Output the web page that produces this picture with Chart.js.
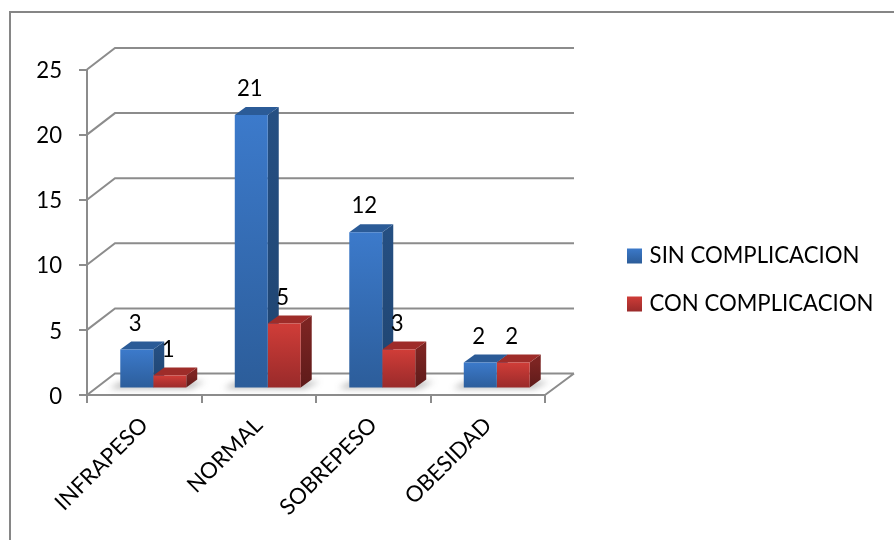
<!DOCTYPE html>
<html>
<head>
<meta charset="utf-8">
<style>html,body{margin:0;padding:0;background:#fff}canvas{display:block}</style>
<script src="https://cdn.jsdelivr.net/npm/chart.js@4"></script>
</head>
<body>
<canvas id="c" width="894" height="540"></canvas>
<script>
const categories = ['INFRAPESO', 'NORMAL', 'SOBREPESO', 'OBESIDAD'];
const sinComplicacion = [3, 21, 12, 2];
const conComplicacion = [1, 5, 3, 2];
const seriesNames = ['SIN COMPLICACION', 'CON COMPLICACION'];

const AXIS = '#8c8c8c';
const FONT = 'Lato';
const FONT_SIZE = 22.2;
// Depth of the floor and of each column in the oblique projection
const WALL = {dx: 28, dy: -21.5};
const BAR_SHIFT = {dx: 9, dy: -6.5};
const BAR_DEPTH = {dx: 11, dy: -8};

const PALETTE = [
  {front: ['#3c7acb', '#2c5d9a'], side: ['#254f82', '#1f4470'], top: '#2b5b97'},
  {front: ['#d03d38', '#982a2a'], side: ['#7c2422', '#5e1b1a'], top: '#9e2c29'}
];

function vGrad(ctx, y0, y1, colors) {
  const g = ctx.createLinearGradient(0, y0, 0, y1);
  g.addColorStop(0, colors[0]);
  g.addColorStop(1, colors[1]);
  return g;
}

function frontFill(seriesIndex) {
  return (c) => {
    const colors = PALETTE[seriesIndex].front;
    const y = c.chart.scales.y;
    if (!y) return colors[0];
    const y0 = y.getPixelForValue(c.raw), y1 = y.getPixelForValue(0);
    if (!Number.isFinite(y0) || !Number.isFinite(y1)) return colors[0];
    return vGrad(c.chart.ctx, y0, y1, colors);
  };
}

function poly(ctx, pts, fill) {
  ctx.beginPath();
  pts.forEach((p, i) => i ? ctx.lineTo(p[0], p[1]) : ctx.moveTo(p[0], p[1]));
  ctx.closePath();
  ctx.fillStyle = fill;
  ctx.fill();
}

const frame3d = {
  id: 'frame3d',
  beforeLayout(chart) {
    // Reserve a fixed strip on the right for the legend
    const legend = chart.legend;
    if (legend && !legend._fixedFit) {
      const fit = legend.fit;
      legend.fit = function () { fit.call(this); this.width = 349; };
      legend._fixedFit = true;
    }
  },
  afterLayout(chart) {
    const legend = chart.legend;
    const pad = legend.options.labels.padding;
    legend.left = 630.5 - pad;
    legend.top = 245 - pad;
    legend.bottom = 540;
  },
  beforeDraw(chart) {
    const ctx = chart.ctx;
    ctx.save();
    ctx.fillStyle = '#fff';
    ctx.fillRect(0, 0, chart.width, chart.height);
    ctx.strokeStyle = '#868686';
    ctx.lineWidth = 2;
    ctx.strokeRect(10, 12, 1000, 1000);
    ctx.restore();
    // Nudge the value-axis labels onto the tick centres
    if (!chart.$labelsNudged) {
      chart.scales.y.getLabelItems().forEach((item) => { item.textOffset += 1.5; });
      chart.$labelsNudged = true;
    }
  },
  beforeDatasetsDraw(chart) {
    const ctx = chart.ctx, x = chart.scales.x, y = chart.scales.y;
    // Back wall lines and floor outline
    ctx.save();
    ctx.strokeStyle = AXIS;
    ctx.lineWidth = 2;
    ctx.beginPath();
    y.ticks.forEach((t) => {
      const py = y.getPixelForValue(t.value);
      ctx.moveTo(x.left, py);
      ctx.lineTo(x.left + WALL.dx, py + WALL.dy);
      ctx.lineTo(x.right + WALL.dx + 1, py + WALL.dy);
    });
    const base = y.getPixelForValue(0);
    ctx.moveTo(x.right, base);
    ctx.lineTo(x.right + WALL.dx + 1, base + WALL.dy);
    ctx.stroke();
    ctx.restore();

    ctx.save();
    ctx.translate(BAR_SHIFT.dx, BAR_SHIFT.dy);
    const metas = [chart.getDatasetMeta(0), chart.getDatasetMeta(1)];
    // Soft shadow cast on the floor
    ctx.save();
    ctx.filter = 'blur(3px)';
    categories.forEach((_, i) => {
      const a = metas[0].data[i], b = metas[1].data[i];
      const l = a.x - a.width / 2, r = b.x + b.width / 2;
      poly(ctx, [[l - 11, base], [l, base - 6], [r + BAR_DEPTH.dx + 8, base + BAR_DEPTH.dy + 1], [r + 4, base]],
        'rgba(60,60,60,.38)');
    });
    ctx.restore();
    // Side and top faces of the columns, first series underneath
    metas.forEach((meta, s) => {
      meta.data.forEach((el) => {
        const l = el.x - el.width / 2, r = el.x + el.width / 2;
        const dx = BAR_DEPTH.dx, dy = BAR_DEPTH.dy;
        poly(ctx, [[r, el.y], [r + dx, el.y + dy], [r + dx, el.base + dy], [r, el.base]],
          vGrad(ctx, el.y, el.base, PALETTE[s].side));
        poly(ctx, [[l, el.y], [l + dx, el.y + dy], [r + dx, el.y + dy], [r, el.y]], PALETTE[s].top);
      });
    });
  },
  afterDatasetsDraw(chart) {
    const ctx = chart.ctx;
    ctx.restore();
    // Value labels above each column
    ctx.save();
    ctx.font = FONT_SIZE + 'px ' + FONT;
    ctx.fillStyle = '#000';
    ctx.textAlign = 'center';
    ctx.textBaseline = 'middle';
    [0, 1].forEach((s) => {
      const values = chart.data.datasets[s].data;
      chart.getDatasetMeta(s).data.forEach((el, i) => {
        ctx.fillText(String(values[i]), el.x + BAR_SHIFT.dx - 1.5, el.y + BAR_SHIFT.dy - 26);
      });
    });
    ctx.restore();
  }
};

new Chart(document.getElementById('c'), {
  type: 'bar',
  data: {
    labels: categories,
    datasets: [
      {label: seriesNames[0], data: sinComplicacion, backgroundColor: frontFill(0), clip: false},
      {label: seriesNames[1], data: conComplicacion, backgroundColor: frontFill(1), clip: false}
    ]
  },
  plugins: [frame3d],
  options: {
    responsive: false,
    animation: false,
    devicePixelRatio: 1,
    layout: {padding: {top: 69.5, left: 0, right: 0, bottom: 0}},
    categoryPercentage: 0.576,
    barPercentage: 1,
    scales: {
      x: {
        afterFit: (s) => { s.height = 145; },
        border: {color: AXIS, width: 2},
        grid: {drawOnChartArea: false, color: AXIS, lineWidth: 2, tickLength: 8, offset: true},
        ticks: {color: '#000', font: {family: FONT, size: FONT_SIZE}, minRotation: 45, maxRotation: 45, padding: 9}
      },
      y: {
        min: 0, max: 25,
        afterFit: (s) => { s.width = 87; },
        border: {color: AXIS, width: 2},
        grid: {drawOnChartArea: false, color: AXIS, lineWidth: 2, tickLength: 8},
        ticks: {stepSize: 5, color: '#000', font: {family: FONT, size: FONT_SIZE}, padding: 17}
      }
    },
    plugins: {
      tooltip: {enabled: false},
      legend: {
        position: 'right',
        align: 'start',
        labels: {
          boxWidth: 8,
          boxHeight: 8,
          padding: 25.8,
          color: '#000',
          font: {family: FONT, size: FONT_SIZE},
          generateLabels(chart) {
            const items = Chart.defaults.plugins.legend.labels.generateLabels(chart);
            const rows = [[248, 263], [296, 312]];
            items.forEach((item, i) => {
              const g = vGrad(chart.ctx, rows[i][0], rows[i][1], PALETTE[i].front);
              item.fillStyle = g;
              item.strokeStyle = g;
              item.lineWidth = 7;
            });
            return items;
          }
        }
      }
    }
  }
});
</script>
</body>
</html>
